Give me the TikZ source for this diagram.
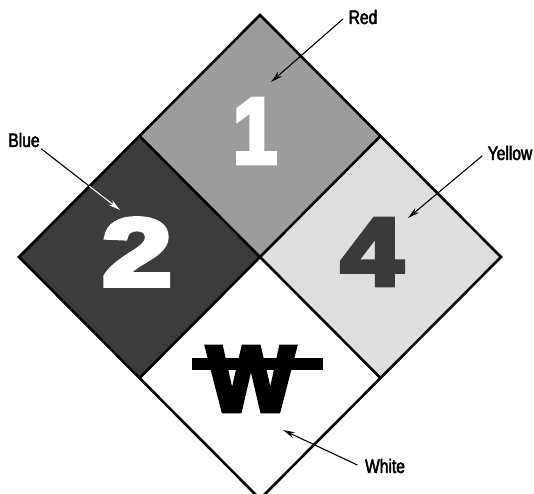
\documentclass[tikz,border=0pt]{standalone}
\usepackage{fontspec}
\usetikzlibrary{arrows.meta}
\newfontfamily\numfont[FakeBold=5]{Liberation Sans Bold}
\newfontfamily\labfont[FakeStretch=0.8,FakeBold=2.5]{Liberation Sans}
\definecolor{redgray}{HTML}{9C9C9C}
\definecolor{bluegray}{HTML}{3C3C3C}
\definecolor{yellowgray}{HTML}{DEDEDE}
\definecolor{fourgray}{HTML}{3A3A3A}
\tikzset{
  border/.style={draw=black, line width=2.6pt, line join=miter},
  numtext/.style={font=\numfont\fontsize{93}{93}\selectfont, inner sep=0pt},
  labtext/.style={font=\labfont\fontsize{19.5}{20}\selectfont, inner sep=1.5pt},
  pointer/.style={line width=1.1pt, -{Stealth[length=12pt,width=6pt]}},
}
\begin{document}
\begin{tikzpicture}[x=1pt,y=-1pt]
\useasboundingbox (0,0) rectangle (534,493);
\begin{scope}
\clip (0,0) rectangle (534,493);
% vertices
\coordinate (T) at (260,15);
\coordinate (L) at (19,257);
\coordinate (R) at (501,257);
\coordinate (B) at (260,499);
\coordinate (C) at (260,257);
\coordinate (ML) at (139.5,136);
\coordinate (MR) at (380.5,136);
\coordinate (BL) at (139.5,378);
\coordinate (BR) at (380.5,378);
% fills
\fill[redgray] (T) -- (MR) -- (C) -- (ML) -- cycle;
\fill[bluegray] (ML) -- (C) -- (BL) -- (L) -- cycle;
\fill[yellowgray] (MR) -- (R) -- (BR) -- (C) -- cycle;
\fill[white] (C) -- (BR) -- (B) -- (BL) -- cycle;
% numbers
\node[numtext, text=white] (one) at (255,131) {\scalebox{0.85}[1]{1}};
\node[numtext, text=white] (two) at (137,252) {\scalebox{1.35}[1.03]{2}};
\node[numtext, text=fourgray] (four) at (372,252) {\scalebox{1.2}[1.03]{4}};
\node[numtext, text=black] (w) at (251,379) {W};
\fill[black] (192,358) rectangle (323,370);
% borders
\draw[border] (T) -- (R) -- (B) -- (L) -- cycle;
\draw[border] (ML) -- (BR);
\draw[border] (MR) -- (BL);
\end{scope}
% labels
\node[labtext] (red) at (363,17) {Red};
\node[labtext] (blue) at (24,140) {Blue};
\node[labtext] (yellow) at (510,153) {Yellow};
\node[labtext] (whitelab) at (385,466) {White};
% arrow tips
\coordinate (tipR) at (271,82);
\coordinate (tipB) at (120,210);
\coordinate (tipY) at (408,218);
\coordinate (tipW) at (283,430);
\draw[pointer] (red.west) ++(-4,2) -- (tipR);
\draw[pointer] (blue.south east) -- (tipB);
\begin{scope}
\clip (L) -- (ML) -- (C) -- (BL) -- cycle;
\draw[pointer, draw=white, fill=white] (blue.south east) -- (tipB);
\end{scope}
\draw[pointer] (yellow.west) ++(-4,3) -- (tipY);
\draw[pointer] (whitelab.west) ++(-6,-1) -- (tipW);
\end{tikzpicture}
\end{document}
